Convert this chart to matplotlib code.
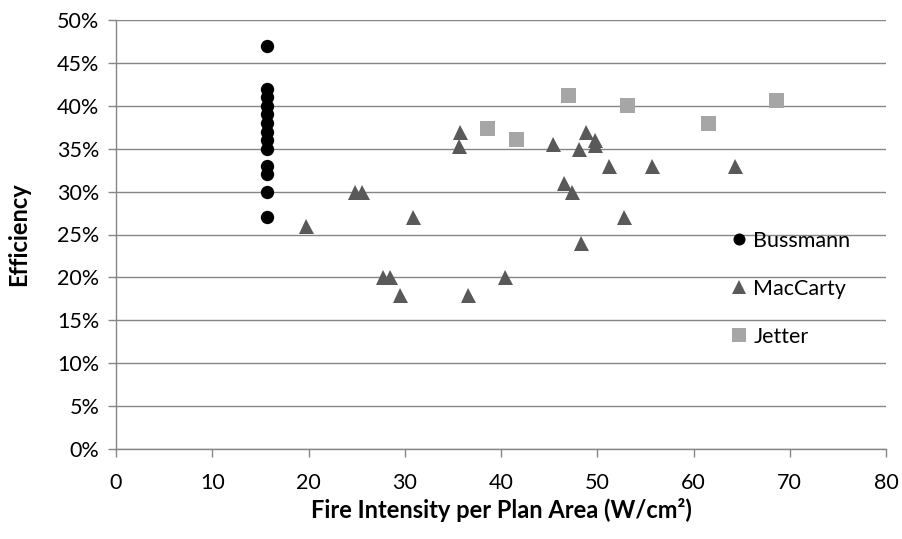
import matplotlib.pyplot as plt
from matplotlib.ticker import FuncFormatter

plt.rcParams['font.family'] = ['Lato', 'DejaVu Sans']

# Bussmann: all at one fire intensity
bussmann_x = [15.7] * 13
bussmann_y = [47, 42, 41, 40, 39, 38, 37, 36, 35, 33, 32, 30, 27]

maccarty_x = [19.7, 24.8, 25.6, 30.9, 27.7, 28.5, 29.5, 36.6, 35.7, 35.6,
              45.4, 48.8, 49.8, 49.8, 48.1, 51.2, 55.7, 46.5, 47.4, 52.8,
              48.3, 40.4, 64.3]
maccarty_y = [26, 30, 30, 27, 20, 20, 18, 18, 37, 35.3,
              35.5, 37, 36, 35.4, 35, 33, 33, 31, 30, 27,
              24, 20, 33]

jetter_x = [38.5, 41.6, 47.0, 53.1, 61.5, 68.6]
jetter_y = [37.4, 36.1, 41.3, 40.1, 38.0, 40.7]

grey = '#868686'

fig = plt.figure(figsize=(9.02, 5.39), dpi=100)
ax = fig.add_axes([116 / 902, 1 - 449 / 539, 770 / 902, 429 / 539])

ax.plot(bussmann_x, bussmann_y, 'o', color='black', ms=9.6, mew=0, label='Bussmann', zorder=3)
ax.plot(maccarty_x, maccarty_y, '^', color='#595959', ms=10.8, mew=0, label='MacCarty', zorder=3)
ax.plot(jetter_x, jetter_y, 's', color='#a6a6a6', ms=10.8, mew=0, label='Jetter', zorder=3)

ax.set_xlim(0, 80)
ax.set_ylim(0, 50)
ax.set_xticks(range(0, 81, 10))
ax.set_yticks(range(0, 51, 5))
ax.yaxis.set_major_formatter(FuncFormatter(lambda v, p: f'{v:.0f}%'))

ax.grid(axis='y', color=grey, lw=1)
ax.set_axisbelow(True)
for s in ['top', 'right']:
    ax.spines[s].set_visible(False)
for s in ['left', 'bottom']:
    ax.spines[s].set_color(grey)
    ax.spines[s].set_linewidth(1)
ax.tick_params(axis='both', colors=grey, labelcolor='black', labelsize=15.5,
               length=6, width=1, direction='out')
ax.tick_params(axis='x', pad=11)
ax.tick_params(axis='y', pad=6)

ax.set_xlabel('Fire Intensity per Plan Area (W/cm²)', fontsize=17, fontweight='bold')
ax.set_ylabel('Efficiency', fontsize=17, fontweight='bold')
ax.xaxis.set_label_coords(0.5, -0.115)
ax.yaxis.set_label_coords(-0.112, 0.5)

ax.legend(loc='upper left', bbox_to_anchor=(720 / 902, 1 - 222 / 539), bbox_transform=fig.transFigure,
          frameon=False, fontsize=15.5, handletextpad=0.15, labelspacing=1.3,
          handlelength=1.0, borderaxespad=0, markerscale=0.9)

fig.savefig('out.png', dpi=100)
